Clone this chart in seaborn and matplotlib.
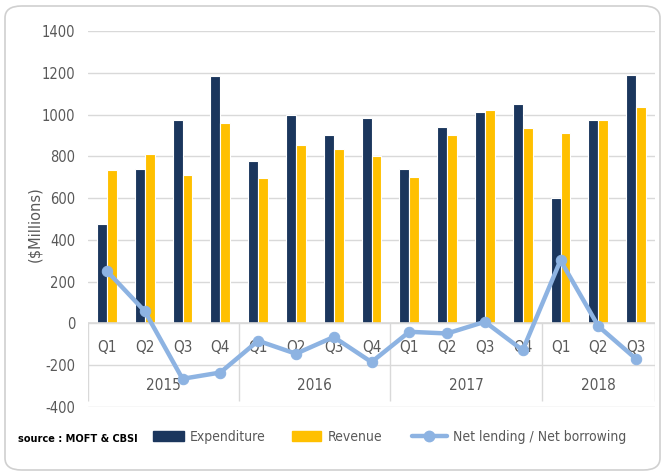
import numpy as np
import pandas as pd
import matplotlib
matplotlib.use("Agg")
import matplotlib.pyplot as plt
import seaborn as sns
from matplotlib.patches import FancyBboxPatch, Patch
from matplotlib.lines import Line2D

years = ["2015", "2016", "2017", "2018"]
year_counts = [4, 4, 4, 3]
quarters = ["Q1", "Q2", "Q3", "Q4"] * 3 + ["Q1", "Q2", "Q3"]
expenditure = [475, 741, 973, 1184, 779, 997, 902, 982, 741, 942, 1011, 1051, 600, 973, 1190]
revenue = [733, 810, 709, 959, 695, 856, 834, 801, 701, 902, 1021, 934, 912, 973, 1035]
net_lending = [251, 59, -265, -235, -83, -145, -65, -185, -40, -48, 8, -128, 302, -13, -170]
series_names = ["Expenditure", "Revenue", "Net lending / Net borrowing"]
y_ticks = list(range(-400, 1401, 200))

EXP_C = "#1B365D"
REV_C = "#FFC000"
NET_C = "#8DB3E2"
TXT_C = "#595959"
GRID_C = "#D9D9D9"

sns.set_theme(style="white")
plt.rcParams["font.family"] = ["DejaVu Sans"]
plt.rcParams["font.stretch"] = "condensed"

n = len(quarters)
idx = list(range(n))
df = pd.DataFrame({
    "idx": idx * 2,
    "value": expenditure + revenue,
    "series": [series_names[0]] * n + [series_names[1]] * n,
})

W, H = 663, 473
fig = plt.figure(figsize=(W / 100, H / 100), dpi=100)
fig.patch.set_facecolor("white")

frame = FancyBboxPatch((5 / W, 3 / H), 655 / W, 464 / H,
                       boxstyle="round,pad=0,rounding_size=0.025",
                       transform=fig.transFigure, fc="none", ec="#D0D0D0", lw=1.2)
fig.patches.append(frame)

ax = fig.add_axes([88 / W, 1 - 407 / H, 567 / W, 376 / H])
sns.barplot(data=df, x="idx", y="value", hue="series", order=idx,
            hue_order=series_names[:2], palette=[EXP_C, REV_C], saturation=1,
            width=0.52, edgecolor="white", linewidth=0.8, ax=ax, legend=False)
sns.lineplot(x=np.array(idx), y=net_lending, color=NET_C, lw=3.2, marker="o",
             markersize=7.5, markeredgecolor=NET_C, ax=ax, zorder=5)

ax.set_xlim(-0.5, n - 0.5)
ax.set_ylim(-400, 1400)
ax.set_yticks(y_ticks)
ax.set_yticklabels([str(v) for v in y_ticks])
ax.set_xticks([])
ax.set_xlabel("")
ax.set_ylabel("")
for s in ax.spines.values():
    s.set_visible(False)
ax.yaxis.grid(True, color=GRID_C, lw=1)
ax.set_axisbelow(True)
ax.axhline(0, color=GRID_C, lw=1.2, zorder=1)
ax.tick_params(axis="y", length=0, pad=9, labelsize=10.5, labelcolor=TXT_C)

# multi-level category axis
for i, q in enumerate(quarters):
    ax.text(i, -115, q, ha="center", va="center", color=TXT_C, fontsize=11, zorder=2)
bounds = [-0.5]
start = 0
for y, c in zip(years, year_counts):
    ax.text(start + (c - 1) / 2, -298, y, ha="center", va="center", color=TXT_C, fontsize=11)
    start += c
    bounds.append(start - 0.5)
ax.vlines(bounds, -370, 0, color=GRID_C, lw=1, zorder=1)

fig.text(35 / W, 1 - 224 / H, "($Millions)", rotation=90, ha="center", va="center",
         color=TXT_C, fontsize=10.5, family="DejaVu Sans", stretch="normal")

handles = [Patch(facecolor=EXP_C, edgecolor=EXP_C),
           Patch(facecolor=REV_C, edgecolor=REV_C),
           Line2D([0], [0], color=NET_C, lw=3.2, marker="o", markersize=7.5)]
leg_x = [153, 292, 412]
hlen = [2.2, 2.1, 2.5]
for h, name, x0, hl in zip(handles, series_names, leg_x, hlen):
    lg = fig.legend([h], [name], loc="center left", bbox_to_anchor=(x0 / W, 1 - 437 / H),
                    frameon=False, fontsize=10, handlelength=hl, handleheight=0.75,
                    handletextpad=0.45, borderpad=0, borderaxespad=0)
    for t in lg.get_texts():
        t.set_color(TXT_C)

fig.text(18 / W, 1 - 439 / H, "source : MOFT & CBSI", ha="left", va="center",
         fontsize=7.8, fontweight="bold", color="black")

fig.savefig("out.png", dpi=100)
